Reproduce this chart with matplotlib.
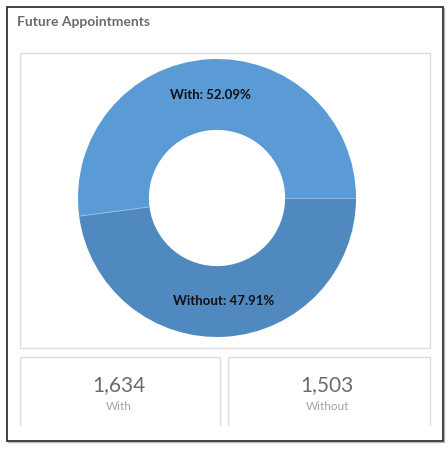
import matplotlib
matplotlib.use("Agg")
import matplotlib.pyplot as plt
from matplotlib.patches import Rectangle
import numpy as np

# Data
categories = ["With", "Without"]
counts = [1634, 1503]
colors = ["#5b9bd5", "#4f89bf"]
title = "Future Appointments"

W, H = 448, 449
DPI = 100
plt.rcParams['font.family'] = ['Lato', 'DejaVu Sans']

fig = plt.figure(figsize=(W / DPI, H / DPI), dpi=DPI)
fig.patch.set_facecolor("white")

# Background axes in pixel coords (y down) for the frame and cards
bg = fig.add_axes([0, 0, 1, 1])
bg.set_xlim(0, W)
bg.set_ylim(H, 0)
bg.axis("off")

def box(x0, y0, x1, y1, ec, lw=1.0, z=1):
    bg.add_patch(Rectangle((x0, y0), x1 - x0, y1 - y0, fill=False,
                           edgecolor=ec, linewidth=lw, zorder=z))

# outer frame with a faint shadow
bg.plot([7.5, 443.5, 443.5], [441.8, 441.8, 7.5], color="#bbbbbb", lw=1.0)
box(6.5, 6.5, 442.5, 440.5, "#222222", lw=1.2, z=3)
# chart panel
box(20, 53, 429.5, 348, "#dddddd", lw=1.0)
# value cards (open at the bottom)
for x0, x1 in [(20, 220), (228, 429.5)]:
    bg.plot([x0, x0, x1, x1], [425, 357, 357, 425], color="#dddddd", lw=1.0)

bg.text(17, 22, title, fontsize=10, fontweight="bold", color="#6b6b6b",
        ha="left", va="center")

# Donut
cx, cy, r = 217, 198, 139
ax = fig.add_axes([(cx - r) / W, (H - cy - r) / H, 2 * r / W, 2 * r / H])
ax.pie(counts, colors=colors, startangle=0, counterclock=True,
       wedgeprops=dict(width=0.51, edgecolor="none"))
ax.set_aspect("equal")
ax.set_xlim(-1, 1)
ax.set_ylim(-1, 1)

total = sum(counts)
start = 0.0
for name, c in zip(categories, counts):
    frac = c / total
    mid = np.deg2rad((start + frac / 2) * 360)
    ax.text(0.745 * np.cos(mid), 0.745 * np.sin(mid),
            f"{name}: {frac * 100:.2f}%", ha="center", va="center",
            fontsize=9.5, fontweight="bold", color="#111111")
    start += frac
    # thin light divider at the end of each slice
    a = np.deg2rad(start * 360)
    ax.plot([0.49 * np.cos(a), np.cos(a)], [0.49 * np.sin(a), np.sin(a)],
            color="#9cc0e4", lw=0.6)

# Card values
for xc, name, c in zip([119, 327], categories, counts):
    bg.text(xc, 385, f"{c:,}", fontsize=15, color="#6b6b6b",
            ha="center", va="center")
    bg.text(xc, 407, name, fontsize=8.5, color="#a3a3a3",
            ha="center", va="center")

fig.savefig("out.png", dpi=DPI, facecolor="white")
